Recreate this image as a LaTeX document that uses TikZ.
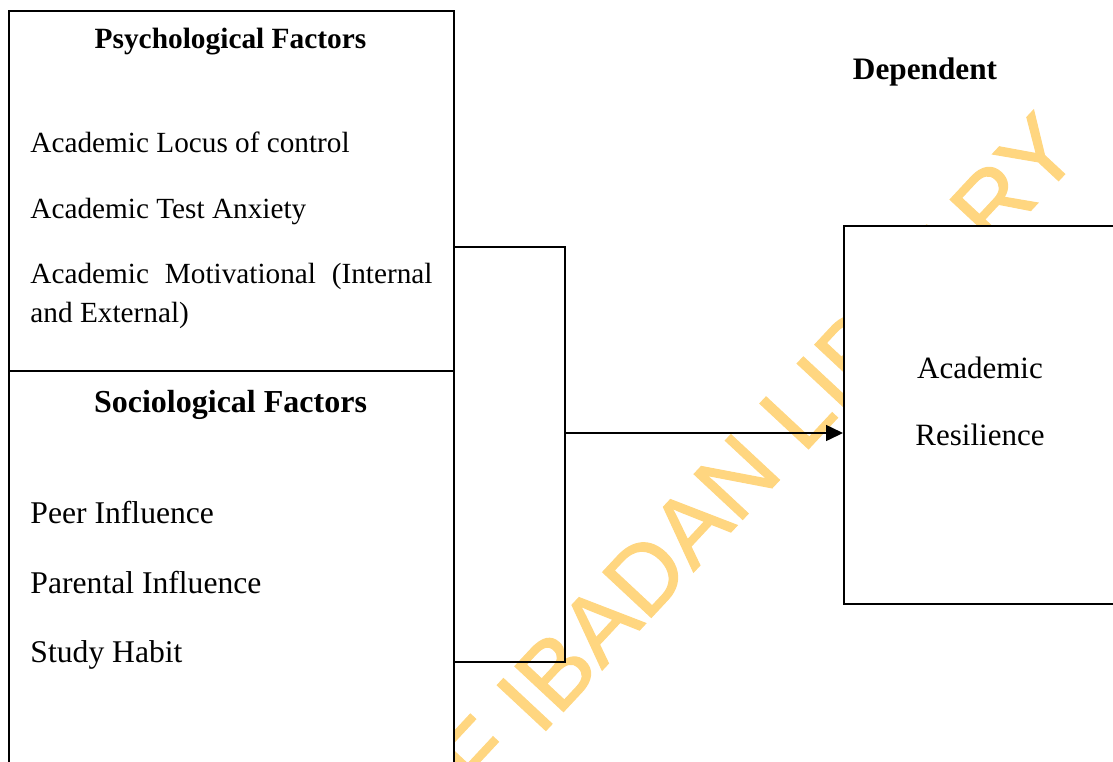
\documentclass[tikz,border=0pt]{standalone}
\usepackage{fontspec}
\setmainfont{Liberation Serif}
\newfontfamily\wmfont{Liberation Sans}[FakeBold=1.2]
\usetikzlibrary{arrows.meta,positioning}
\definecolor{wmyellow}{RGB}{255,214,128}
\tikzset{
  factorbox/.style={draw, line width=0.8pt, fill=white, anchor=north west, inner sep=0pt},
  head/.style={anchor=base, inner sep=0pt, font=\bfseries\fontsize{11.75}{14}\selectfont},
  item/.style={anchor=base west, inner sep=0pt, font=\fontsize{11.7}{14}\selectfont},
  bigitem/.style={item, font=\fontsize{12.65}{15}\selectfont},
  link/.style={line width=0.6pt},
}
\begin{document}
\begin{tikzpicture}[x=0.4pt,y=-0.4pt]
    \clip (0,0) rectangle (1113,761);

    % --- watermark ---
    \node[anchor=base west, rotate=47, inner sep=0pt, text=wmyellow,
          font=\wmfont\fontsize{38.6}{40}\selectfont] (wm) at (481,800) {F IBADAN LIBRARY};

    % --- boxes ---
    \node[factorbox, minimum width=178pt, minimum height=144pt] (psy) at (8,10) {};
    \node[factorbox, minimum width=178pt, minimum height=172pt] (soc) at (8,370) {};
    \node[factorbox, minimum width=116pt, minimum height=151.2pt] (res) at (843,225) {};

    % --- psychological factors ---
    \node[head] (psyhead) at (230.5,48) {Psychological Factors};
    \node[item] (locus) at (30,152) {Academic Locus of control};
    \node[item] (anx) at (30,218) {Academic Test Anxiety};
    \node[item] (mot) at (30,283) {\makebox[160.8pt][s]{Academic Motivational (Internal}};
    \node[item] (mot2) at (30,322) {and External)};

    % --- sociological factors ---
    \node[head, font=\bfseries\fontsize{12.8}{15}\selectfont] (sochead) at (230.5,412) {Sociological Factors};
    \node[bigitem] (peer) at (30,523) {Peer Influence};
    \node[bigitem] (par) at (30,593) {Parental Influence};
    \node[bigitem] (habit) at (30,662) {Study Habit};

    % --- dependent ---
    \node[head, font=\bfseries\fontsize{12.5}{15}\selectfont] (dephead) at (925,79) {Dependent};
    \node[head, font=\fontsize{12.4}{15}\selectfont] (acad) at (980,378) {Academic};
    \node[head, font=\fontsize{12.4}{15}\selectfont] (resil) at (980,445) {Resilience};

    % --- connectors ---
    \coordinate (jtop) at (565,247);
    \coordinate (jbot) at (565,662);
    \coordinate (jmid) at (565,433);
    \draw[link] (jtop -| psy.east) -- (jtop) -- (jbot) -- (jbot -| soc.east);
    \draw[link, -{Triangle[length=6.8pt,width=6.4pt]}] (jmid) -- (jmid -| res.west);
\end{tikzpicture}
\end{document}
